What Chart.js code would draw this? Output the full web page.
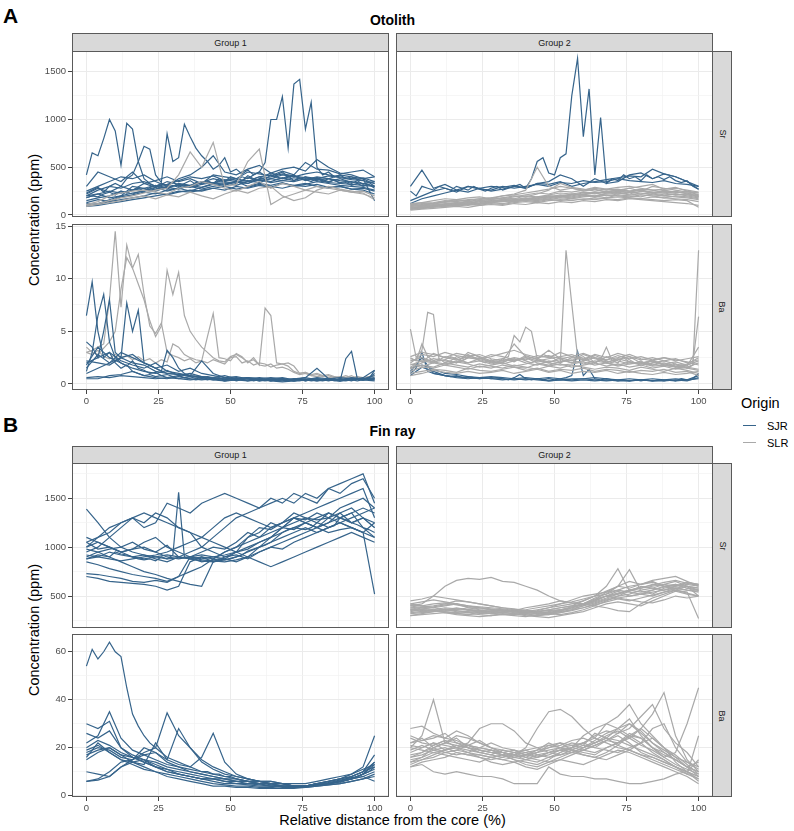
<!DOCTYPE html>
<html>
<head>
<meta charset="utf-8">
<script src="https://cdn.jsdelivr.net/npm/chart.js@4.4.0/dist/chart.umd.min.js"></script>
<style>
  body { margin: 0; background: #fff; font-family: "Liberation Sans", Arial, Helvetica, sans-serif; }
  #fig { position: relative; width: 794px; height: 831px; overflow: hidden; background: #fff; }
  #fig canvas { position: absolute; }
  .txt { position: absolute; line-height: 1; white-space: nowrap; color: #000; }
  .strip { position: absolute; box-sizing: border-box; background: #d9d9d9; border: 1px solid #5a5a5a;
           color: #1a1a1a; font-size: 9px; display: flex; align-items: center; justify-content: center; }
  .strip.v span { display: block; transform: rotate(90deg); }
  .key { position: absolute; width: 13px; height: 1.3px; }
</style>
</head>
<body>
<div id="fig">
  <div class="txt" style="left:3px;top:14.5px;transform:translateY(-50%);font-size:21px;font-weight:bold;">A</div>
  <div class="txt" style="left:3px;top:423.5px;transform:translateY(-50%);font-size:21px;font-weight:bold;">B</div>
  <div class="txt" style="left:392.5px;top:20px;transform:translate(-50%,-50%);font-size:14px;font-weight:bold;">Otolith</div>
  <div class="txt" style="left:392.5px;top:431px;transform:translate(-50%,-50%);font-size:14px;font-weight:bold;">Fin ray</div>
  <div class="txt" style="left:34px;top:220px;transform:translate(-50%,-50%) rotate(-90deg);font-size:14.5px;">Concentration (ppm)</div>
  <div class="txt" style="left:34px;top:630px;transform:translate(-50%,-50%) rotate(-90deg);font-size:14.5px;">Concentration (ppm)</div>
  <div class="txt" style="left:392.5px;top:820px;transform:translate(-50%,-50%);font-size:14.5px;">Relative distance from the core (%)</div>

  <div class="strip" style="left:72px;top:33px;width:317px;height:19px;">Group 1</div>
  <div class="strip" style="left:396px;top:33px;width:317px;height:19px;">Group 2</div>
  <div class="strip v" style="left:712px;top:51px;width:20px;height:166px;"><span>Sr</span></div>
  <div class="strip v" style="left:712px;top:224px;width:20px;height:166px;"><span>Ba</span></div>
  <div class="strip" style="left:72px;top:446px;width:317px;height:18px;">Group 1</div>
  <div class="strip" style="left:396px;top:446px;width:317px;height:18px;">Group 2</div>
  <div class="strip v" style="left:712px;top:463px;width:20px;height:165px;"><span>Sr</span></div>
  <div class="strip v" style="left:712px;top:634px;width:20px;height:163px;"><span>Ba</span></div>

  <div class="txt" style="left:741px;top:403px;transform:translateY(-50%);font-size:14.5px;">Origin</div>
  <div class="key" style="left:743px;top:425px;background:#36648b;"></div>
  <div class="txt" style="left:767px;top:426px;transform:translateY(-50%);font-size:11px;">SJR</div>
  <div class="key" style="left:743px;top:442px;background:#a9a9a9;"></div>
  <div class="txt" style="left:767px;top:443px;transform:translateY(-50%);font-size:11px;">SLR</div>
</div>

<script>
// x positions (% of distance from the core)
const xCoarse = [0,4,8,12,16,20,24,28,32,36,40,44,48,52,56,60,64,68,72,76,80,84,88,92,96,100];
const xFine = [0,2,4,6,8,10,12,14,16,18,20,22,24,26,28,30,32,34,36,38,40,42,44,46,48,
               50,52,54,56,58,60,62,64,66,68,70,72,74,76,78,80,82,84,86,88,90,92,94,96,98,100];

// axis ticks
const xMajor = [0,25,50,75,100];
const xMinor = [12.5,37.5,62.5,87.5];
const otoSrMajor = [0,500,1000,1500], otoSrMinor = [250,750,1250];
const otoBaMajor = [0,5,10,15], otoBaMinor = [2.5,7.5,12.5];
const finSrMajor = [500,1000,1500], finSrMinor = [250,750,1250,1750];
const finBaMajor = [0,20,40,60], finBaMinor = [10,30,50];

// ---- Otolith, Sr, Group 1 ----
const otoSrG1_SJR_fine = [
  [420,650,620,800,1000,880,520,960,900,560, 380,330,300,330,310,350,300,330,360,320,
   340,360,330,380,350,400,380,360,410,380, 400,370,420,390,380,410,360,390,370,350,
   380,360,340,370,330,340,310,330,300,320, 280],
  [230,260,290,240,300,330,300,380,420,560, 720,690,420,340,850,560,600,950,820,700,
   620,560,480,520,600,450,480,430,470,420, 450,410,440,420,450,400,420,380,400,370,
   390,350,380,360,340,350,330,360,320,340, 300],
  [180,200,190,220,240,210,250,230,260,280, 250,290,270,300,280,310,290,320,300,340,
   320,350,330,360,350,380,360,400,380,420, 450,550,1000,1000,1240,700,1370,1420,900,1180,
   500,420,450,400,420,380,400,370,380,350, 330]
];
const otoSrG1_SJR = [
  [100,120,160,200,230,250,270,300,310,290,320,340,330,350,360,340,380,360,350,380,360,340,330,320,310,300],
  [200,260,300,280,330,350,300,320,360,400,380,410,360,380,350,400,420,380,410,360,390,350,380,340,330,350],
  [150,180,200,250,220,260,290,250,280,300,270,300,320,350,300,330,310,340,300,320,350,330,310,300,290,260],
  [120,110,140,160,180,200,230,210,240,260,250,280,260,300,280,310,290,330,310,300,320,290,300,270,280,250],
  [250,300,350,400,380,420,350,300,380,420,500,620,450,420,480,520,440,480,500,460,580,500,440,420,380,400],
  [90,100,120,140,160,180,200,220,250,240,260,280,300,270,290,320,300,280,310,330,300,280,300,270,260,220],
  [300,450,400,350,450,330,360,400,350,380,330,420,400,380,450,430,410,460,420,550,480,470,430,450,470,400],
  [200,220,180,200,300,280,310,270,330,310,350,330,370,350,330,380,400,430,410,390,370,380,420,400,380,150],
  [180,220,250,230,260,280,250,290,270,310,290,330,310,350,330,370,350,390,360,400,380,410,390,370,360,330],
  [130,160,140,190,210,240,220,260,280,250,290,320,340,310,350,370,340,360,390,370,400,380,360,350,330,300],
  [220,280,240,300,260,330,290,350,320,300,340,380,350,330,390,360,380,420,400,430,450,420,400,380,390,350]
];
const otoSrG1_SLR = [
  [100,120,150,180,200,230,260,280,420,660,500,760,300,320,560,690,110,180,220,260,300,280,260,240,250,200],
  [90,110,130,150,180,200,170,210,190,240,200,170,220,260,230,280,300,200,150,180,260,300,270,250,230,160],
  [110,140,200,230,250,260,240,220,280,300,350,320,280,250,300,350,280,330,300,260,240,220,260,240,220,180]
];

// ---- Otolith, Sr, Group 2 ----
const otoSrG2_SJR_fine = [
  [250,200,300,280,260,300,280,260,300,280, 260,300,270,250,280,300,260,280,300,320,
   280,380,560,600,440,420,600,640,1250,1640, 820,1320,420,1020,330,380,360,420,380,400,
   360,420,380,400,370,400,360,340,360,300, 270]
];
const otoSrG2_SJR = [
  [300,470,280,320,260,300,280,250,270,300,280,330,350,420,380,300,380,330,350,420,440,380,430,400,350,300],
  [150,200,250,280,240,300,270,260,300,280,300,320,300,340,330,360,340,350,380,360,350,340,360,330,320,300],
  [120,170,200,230,260,240,280,300,290,310,280,330,320,350,300,330,350,370,390,410,400,480,430,400,350,270]
];
const otoSrG2_SLR = [
  [60,70,80,90,100,110,120,130,140,150,170,160,180,200,190,210,200,220,230,210,220,240,230,210,220,200],
  [80,90,110,100,120,130,120,140,150,160,150,170,160,180,170,190,200,180,210,200,190,220,200,190,180,160],
  [100,120,130,150,140,160,170,180,200,220,260,500,300,260,280,250,270,240,260,280,250,300,280,260,240,230],
  [50,60,70,80,90,80,100,110,100,120,110,130,120,140,130,150,140,160,150,170,160,150,140,130,120,100],
  [120,130,150,170,160,180,190,170,200,210,230,250,270,300,280,260,290,270,250,280,300,320,270,290,250,230],
  [90,100,100,120,130,120,150,140,160,170,160,180,200,190,220,210,230,200,220,240,260,230,210,220,200,180],
  [70,80,100,90,110,120,110,130,150,140,160,150,170,190,180,200,190,210,200,190,210,200,180,170,160,140],
  [110,100,120,140,150,140,160,180,170,190,210,230,220,250,240,260,280,260,270,250,260,240,230,250,220,200],
  [60,80,90,110,100,130,120,140,160,150,170,190,180,200,220,210,190,230,240,220,250,230,260,240,230,210],
  [100,110,120,130,120,140,150,160,180,170,200,190,210,230,220,240,230,250,220,240,230,210,200,220,210,190],
  [80,70,90,100,110,100,120,130,120,140,150,140,160,150,170,160,180,170,160,180,170,160,150,160,150,80],
  [70,90,100,110,130,120,140,150,140,160,180,170,190,210,200,220,240,230,250,240,220,230,250,240,230,190],
  [90,100,120,110,100,120,130,150,160,150,170,180,200,190,210,230,220,240,260,250,270,260,240,230,250,210],
  [110,130,120,140,160,150,170,160,180,200,190,220,260,330,290,270,250,270,290,300,280,260,270,280,260,240],
  [60,70,90,100,90,110,100,120,110,130,140,130,150,160,150,170,160,180,190,180,170,190,180,200,190,170]
];

// ---- Otolith, Ba, Group 1 ----
const otoBaG1_SLR_fine = [
  [3.0,3.2,3.5,3.8,8.0,14.5,7.3,13.2,11.0,12.3, 8.5,5.5,4.8,5.8,3.0,2.7,2.5,2.2,2.4,2.0,
   2.2,2.0,2.3,2.1,1.9,2.5,2.6,2.0,2.2,1.8, 2.0,1.9,1.6,1.8,1.9,1.7,1.2,1.0,1.1,0.8,
   0.9,0.7,0.8,0.6,0.7,0.6,0.8,0.5,0.6,0.5, 0.4],
  [3.5,3.0,2.8,3.4,4.0,5.0,9.0,12.0,11.0,9.5, 8.0,6.0,4.5,5.5,10.8,8.5,10.6,6.5,5.0,4.2,
   3.5,3.0,2.5,2.2,2.1,2.6,2.8,2.5,2.1,2.3, 1.8,1.7,1.9,1.5,1.6,1.4,1.1,0.9,1.0,0.8,
   0.7,0.8,0.6,0.7,0.5,0.6,0.5,0.7,0.5,0.6, 0.5],
  [3.0,2.8,3.2,2.6,2.4,2.8,2.5,2.7,2.3,2.6, 2.2,2.4,2.0,2.3,2.1,3.8,3.5,2.8,2.5,2.3,
   2.2,4.5,6.7,2.5,2.4,2.2,2.9,2.6,2.0,2.5, 1.8,7.2,6.5,2.0,1.9,2.0,1.7,1.0,1.1,0.9,
   1.0,0.8,0.9,0.7,0.6,0.8,0.6,0.7,0.6,0.7, 0.8]
];
const otoBaG1_SJR_fine = [
  [6.5,9.7,5.0,2.5,3.0,2.0,1.5,1.8,1.2,1.0, 0.8,0.9,0.7,0.8,0.6,0.7,0.5,0.6,0.5,0.4,
   0.5,0.4,0.5,0.4,0.3,0.4,0.5,0.4,0.3,0.4, 0.3,0.4,0.3,0.4,0.5,0.3,0.4,0.3,0.4,0.3,
   0.4,0.3,0.4,0.5,0.3,2.4,3.1,0.5,0.4,0.5, 0.5],
  [1.2,3.0,6.5,8.5,4.0,2.5,2.0,1.7,2.2,1.5, 1.3,1.0,1.1,0.8,0.9,0.7,0.8,0.6,0.7,0.5,
   0.6,0.5,0.4,0.5,0.4,0.5,0.3,0.4,0.5,0.3, 0.4,0.3,0.4,0.3,0.5,0.4,0.3,0.4,0.3,0.4,
   0.5,0.4,0.3,0.4,0.5,0.4,0.3,0.5,0.4,0.6, 1.0],
  [4.0,3.5,2.5,5.0,8.0,3.0,2.5,7.7,5.0,7.0, 2.0,1.8,1.5,1.2,3.2,2.5,1.5,1.0,0.8,0.7,
   0.6,0.7,0.5,0.6,0.4,0.5,0.4,0.5,0.6,0.4, 0.5,0.4,0.3,0.4,0.5,0.3,0.4,0.5,0.3,0.4,
   0.3,0.4,0.5,0.3,0.4,0.3,0.4,0.3,0.4,0.5, 1.3]
];
const otoBaG1_SJR = [
  [2.0,2.5,3.0,2.2,1.8,1.5,2.0,1.2,1.0,0.8,0.7,0.6,0.5,0.6,0.5,0.4,0.5,0.4,0.5,0.6,0.4,0.5,0.4,0.5,0.4,0.5],
  [1.5,2.8,2.0,2.5,2.0,1.8,1.2,1.0,0.9,0.8,2.2,1.0,0.6,0.5,0.6,0.5,0.4,0.4,0.3,0.4,0.5,0.4,0.3,0.4,0.5,0.6],
  [0.6,0.7,0.6,0.8,0.7,0.6,0.5,0.6,0.5,0.4,0.5,0.4,0.3,0.4,0.3,0.4,0.3,0.2,0.3,0.4,0.3,0.4,0.3,0.5,0.4,0.3],
  [1.0,1.5,2.0,3.0,2.5,2.0,1.5,1.0,0.9,0.7,0.6,0.5,0.5,0.4,0.5,0.4,0.4,0.3,0.5,0.4,0.6,0.5,0.4,0.5,0.5,0.8],
  [2.2,2.0,1.8,2.5,2.8,2.0,1.5,1.8,1.2,1.5,1.0,0.8,0.6,0.7,0.5,0.6,0.5,0.6,0.4,0.5,0.4,0.5,0.6,0.5,0.4,0.5],
  [0.5,0.5,0.8,0.9,1.2,0.8,0.6,0.5,0.7,0.5,0.4,0.5,0.3,0.4,0.5,0.3,0.4,0.5,0.3,0.4,0.5,0.4,0.3,0.4,0.6,1.3],
  [1.8,3.5,2.5,2.0,1.5,1.2,1.0,1.3,0.8,1.0,0.7,0.6,0.8,0.5,0.6,0.5,0.6,0.5,0.4,0.6,1.5,0.5,0.4,0.6,0.5,0.4]
];

// ---- Otolith, Ba, Group 2 ----
const otoBaG2_SLR_fine = [
  [5.2,2.5,3.2,6.8,6.6,2.2,2.3,2.6,2.4,2.2, 2.5,2.8,2.5,2.3,2.1,2.2,2.0,2.3,2.2,2.4,
   2.2,2.0,2.3,2.8,2.6,2.4,2.0,12.7,7.6,2.6, 2.2,2.5,2.0,2.3,3.5,2.2,2.0,2.6,2.3,2.0,
   2.2,1.8,2.0,2.1,1.8,1.9,1.6,1.8,1.5,1.8, 12.7],
  [2.5,2.2,3.8,2.6,2.2,2.4,2.0,2.2,2.6,2.4, 2.8,2.5,2.2,2.0,2.3,2.0,2.4,2.6,4.6,4.0,
   5.4,5.0,2.4,2.8,3.2,2.8,2.4,2.2,2.0,2.4, 2.6,2.2,2.0,2.4,2.2,2.0,2.3,2.5,2.1,2.0,
   1.9,2.1,1.8,2.0,1.8,1.7,1.9,1.6,1.8,2.0, 6.4]
];
const otoBaG2_SLR = [
  [1.5,2.0,2.4,2.2,2.0,2.5,2.3,2.0,2.2,3.8,2.6,2.4,2.1,2.3,2.0,2.2,2.5,2.0,1.8,2.1,1.9,2.2,1.8,1.7,1.6,2.0],
  [1.2,1.6,1.5,1.8,1.6,1.4,1.7,1.5,1.8,1.6,1.5,1.9,1.7,1.5,1.8,1.6,1.4,1.6,1.5,1.3,1.6,1.4,1.2,1.5,1.3,1.0],
  [2.0,2.8,2.6,3.0,2.7,2.5,2.4,2.8,2.6,2.3,2.5,2.2,2.4,2.6,2.8,2.4,2.7,2.3,2.5,2.8,2.4,2.2,2.5,2.3,2.1,1.8],
  [1.0,1.2,1.4,1.3,1.1,1.5,1.3,1.2,1.4,1.6,1.3,1.5,1.2,1.4,1.3,1.5,1.2,1.4,1.3,1.1,1.3,1.2,1.4,1.1,1.2,0.8],
  [1.8,2.2,2.0,2.6,2.4,2.0,2.2,1.9,2.1,2.4,2.0,1.8,2.2,2.0,2.5,2.3,2.0,2.6,2.2,1.9,2.1,1.8,2.0,1.7,1.9,2.5],
  [0.8,1.0,1.3,1.1,1.0,1.2,1.0,1.1,1.3,1.0,1.2,1.4,1.1,1.3,1.0,1.2,1.1,1.3,1.0,1.2,1.0,0.9,1.1,0.9,1.0,1.2],
  [2.2,2.5,2.1,2.3,2.0,3.0,2.6,2.2,2.4,2.1,2.7,2.3,2.0,2.5,2.2,2.8,2.4,2.1,2.3,2.6,2.0,2.2,1.9,2.1,1.8,2.2],
  [1.4,1.8,1.6,2.0,1.8,1.6,1.9,1.7,1.5,1.8,1.6,1.4,1.7,1.9,1.6,1.8,2.0,1.7,1.9,1.6,1.8,1.5,1.7,1.4,1.6,1.4],
  [2.6,3.0,2.8,2.5,2.9,2.7,2.4,2.6,2.9,3.2,2.8,2.5,2.7,2.4,2.6,2.9,2.5,2.3,2.7,2.4,2.6,2.3,2.5,2.2,2.4,2.6],
  [1.6,2.3,2.1,1.9,2.2,2.0,2.4,2.1,1.9,2.2,2.5,2.0,1.8,2.1,2.3,1.9,2.2,2.0,2.4,2.1,1.8,2.0,2.2,1.9,1.7,3.5],
  [1.9,1.7,2.0,1.8,2.1,1.9,1.6,1.8,2.0,1.7,1.9,2.2,2.0,1.8,1.9,2.1,1.8,2.0,1.7,1.9,2.0,1.7,1.8,1.6,1.5,1.3],
  [2.4,2.1,2.9,2.5,2.3,2.6,2.8,2.4,2.2,2.5,2.3,2.7,2.5,3.0,2.6,2.3,2.8,2.5,2.9,2.6,2.3,2.5,2.2,2.4,2.0,2.3]
];
const otoBaG2_SJR_fine = [
  [1.0,1.5,3.0,1.2,1.0,0.9,0.8,0.7,0.8,0.6, 0.7,0.6,0.5,0.6,0.5,0.6,0.5,0.4,0.6,0.9,
   0.5,0.4,0.5,0.4,0.5,0.4,0.5,0.6,0.8,3.1, 0.8,1.4,0.5,0.4,0.5,0.4,0.3,0.4,0.3,0.4,
   0.3,0.4,0.3,0.4,0.3,0.4,0.3,0.5,0.4,0.5, 1.0]
];
const otoBaG2_SJR = [
  [1.2,2.5,1.0,0.8,0.7,0.6,0.5,0.6,0.5,0.4,0.5,0.4,0.3,0.4,0.3,0.4,0.3,0.4,0.3,0.3,0.4,0.3,0.3,0.4,0.3,0.6],
  [0.8,1.6,1.2,0.8,0.6,0.5,0.6,0.5,0.4,0.5,0.4,0.5,0.3,0.4,0.5,0.5,0.4,0.3,0.4,0.3,0.4,0.3,0.4,0.3,0.4,0.5],
  [1.5,1.8,1.4,1.0,0.9,0.7,0.6,0.7,0.6,0.5,0.6,0.5,0.6,0.5,0.4,0.5,0.6,0.5,0.4,0.5,0.4,0.5,0.4,0.5,0.4,0.8]
];

// ---- Fin ray, Sr, Group 1 ----
const finSrG1_SJR_fine = [
  [880,900,920,910,900,950,930,920,900,880, 870,880,860,900,880,920,1560,900,880,870,
   850,860,870,880,870,880,900,920,960,980, 1000,1020,1050,1100,1150,1180,1200,1190,1180,1200,
   1250,1230,1200,1220,1300,1280,1250,1230,1200,1180, 1150]
];
const finSrG1_SJR = [
  [1390,1250,1100,1000,1050,980,950,1020,900,880,900,850,880,950,1100,1150,1250,1200,1300,1250,1200,1300,1250,1200,1150,1250],
  [700,680,650,640,630,620,600,560,600,850,900,880,950,1000,1100,1200,1180,1250,1300,1280,1350,1300,1400,1450,1500,1400],
  [730,720,700,680,650,640,660,640,700,900,950,1000,980,1050,1150,1100,1200,1250,1350,1300,1250,1350,1300,1350,1200,1100],
  [950,1000,1100,1200,1300,1250,1350,1300,1200,1150,1000,950,900,920,880,950,1000,980,1050,1100,1150,1200,1250,1300,1350,1400],
  [1050,1100,1150,1250,1300,1200,1250,1450,1400,1350,1450,1500,1550,1500,1450,1400,1500,1450,1550,1500,1450,1600,1650,1700,1750,1450],
  [900,950,980,1000,950,920,900,880,890,900,870,860,850,870,900,950,1000,1050,1100,1150,1200,1250,1300,1350,1400,1350],
  [1000,1050,1000,950,980,1000,950,900,880,900,920,900,880,850,900,1000,1100,1200,1250,1300,1280,1300,1350,1250,1300,1200],
  [850,820,780,750,720,700,680,650,700,750,800,880,950,1000,1050,1100,1150,1200,1180,1250,1200,1150,1180,1200,1150,1100],
  [1100,1050,1000,950,980,1050,1100,1000,950,900,880,900,920,950,1000,1050,1100,1150,1200,1250,1300,1350,1300,1250,1300,1250],
  [920,900,880,860,880,900,920,950,1000,1050,1100,1200,1300,1350,1300,1250,1200,1250,1300,1350,1400,1450,1500,1550,1600,1300],
  [980,950,900,850,800,750,720,680,650,620,600,850,900,950,900,850,800,850,900,950,1000,1050,1100,1150,1100,1050],
  [1050,980,1000,950,900,920,880,850,900,950,1000,1100,1200,1300,1350,1400,1450,1500,1450,1550,1500,1600,1550,1650,1700,1500],
  [880,900,950,920,900,880,900,920,900,880,860,850,870,900,950,1000,1050,1100,1150,1200,1150,1200,1250,1200,1150,520],
  [1000,1100,1200,1250,1300,1350,1300,1250,1200,1150,1100,1050,1000,950,980,1050,1100,1200,1300,1250,1200,1250,1350,1400,1300,1200]
];

// ---- Fin ray, Sr, Group 2 ----
const finSrG2_SLR = [
  [400,420,500,600,660,680,670,690,650,640,600,560,500,450,430,420,450,500,520,560,580,620,600,620,600,580],
  [350,380,360,340,330,350,340,320,330,350,340,360,380,400,420,450,500,550,600,580,620,650,600,580,560,550],
  [420,400,380,400,420,380,360,340,350,330,320,340,360,380,400,450,500,600,780,550,580,600,620,650,600,500],
  [380,360,350,340,320,330,310,300,320,310,330,340,320,350,380,420,480,520,600,770,550,520,580,600,640,620],
  [330,340,350,360,340,330,340,350,360,340,320,300,310,330,360,400,450,500,550,500,520,560,600,620,580,560],
  [450,470,500,480,460,440,420,400,380,360,350,340,360,380,400,420,460,540,600,650,620,660,680,700,650,600],
  [300,310,320,330,310,300,290,300,310,320,300,290,280,300,320,340,380,420,440,420,400,450,500,550,520,500],
  [360,340,350,330,320,310,320,330,340,350,380,400,420,450,430,420,400,380,350,340,420,480,520,560,600,580],
  [400,380,390,410,420,400,380,370,360,340,330,350,380,420,460,500,520,540,560,600,620,640,600,560,540,270],
  [320,330,340,350,370,360,350,340,330,320,310,300,320,340,360,380,420,460,480,500,520,540,560,580,600,560],
  [380,390,400,420,450,440,420,400,380,370,350,340,330,350,370,400,430,470,500,520,560,580,620,600,620,600],
  [340,360,350,370,360,380,370,360,350,340,360,380,400,420,440,470,500,520,560,540,520,500,540,580,560,540],
  [420,440,460,440,420,400,390,380,370,350,340,330,320,310,330,360,400,450,500,550,600,580,560,600,640,620],
  [300,320,340,360,380,360,340,320,310,300,290,310,330,350,380,420,460,500,480,460,440,430,460,500,480,500],
  [370,350,360,380,370,360,350,340,350,360,350,340,350,360,380,410,440,480,520,560,540,560,590,610,580,560],
  [410,400,420,430,410,390,380,360,350,340,330,320,340,360,390,420,470,500,530,560,590,610,640,660,630,610],
  [360,370,380,360,350,340,330,320,330,340,330,320,310,330,350,380,410,440,470,450,480,510,540,560,530,500]
];

// ---- Fin ray, Ba, Group 1 ----
const finBaG1_SJR_fine = [
  [54,61,57,60,64,60,58,45,34,29, 25,22,20,18,16,15,14,13,12,11,
   10,10,9,9,8,8,7,6.5,6,5.5, 5,5,4.5,4.2,4,4.2,4,3.8,4,4.2,
   4.5,5,5.5,6,6.5,7,7.5,8,9,10, 12]
];
const finBaG1_SJR = [
  [30,28,31,20,17,15,14,12,11,10,9,8,7,7,6,6,5,5,4,4,5,5,6,7,8,10],
  [22,25,35,24,19,17,15,13,12,11,10,9,8,7,6,6,5,5,4,4,5,6,7,8,10,14],
  [18,20,19,16,15,18,20,34.5,25,20,15,12,10,8,7,6,6,5,5,5,6,7,8,9,11,13],
  [16,22,18,15,14,13,22,15,28,20,14,11,9,8,7,6,6,5,4,4,5,6,7,9,12,25],
  [6,7,10,14,15,17,18,15,13,12,16,26,14,9,7,6,5,5,4,4,5,6,7,8,10,12],
  [10,9,8,12,15,20,18,14,12,10,9,8,7,6,6,5,5,4,4,4,5,5,6,7,9,11],
  [17,19,20,17,14,12,10,9,8,7,6,5,4.5,4,4,3.5,3.5,3,3,3.5,4,4.5,5,6,7,9],
  [20,23,21,18,16,15,13,11,9,8,7,7,6,6,5,5,4,4,3.5,4,4.5,5,6,7,9,14],
  [15,18,20,17,16,14,12,11,10,9,8,7,7,6,6,5,5,4,4,4,4.5,5,6,8,10,17],
  [19,21,18,15,13,11,10,8,7,6,5,4,4,3.5,3.5,3,3,3,3.5,3.5,4,4.5,5,6,7,8],
  [26,24,27,20,16,14,12,10,9,8,7,6,5,5,4.5,4,4,3.5,3.5,4,4.5,5,5.5,7,9,13],
  [6,6.5,8,12,14,15,12,10,9,8,7,7,6,5,5,4.5,4,4,3.5,4,4.5,5,6,7,8,6]
];

// ---- Fin ray, Ba, Group 2 ----
const finBaG2_SLR = [
  [20,25,40,22,24,20,18,17,16,18,19,17,16,18,20,25,28,30,33,38,30,25,20,14,10,8],
  [28,29,26,24,27,25,22,20,19,18,17,18,20,22,19,18,17,20,22,24,28,34,43,25,15,10],
  [14,16,20,22,25,24,22,20,18,17,20,28,35,36,33,28,24,22,20,19,17,16,14,12,10,8],
  [18,20,22,21,20,22,28,30,30,27,22,20,18,17,18,20,22,24,28,32,25,20,18,15,12,10],
  [12,13,10,9,10,9,8,8,7,5,5,5,12,9,8,8,7,7,6,5,5,6,7,9,10,6],
  [17,18,20,22,21,20,19,18,17,16,17,18,19,20,22,21,20,23,22,25,24,20,17,15,12,14],
  [19,21,19,20,18,17,17,16,15,16,15,17,18,19,20,22,25,27,26,28,33,38,28,22,18,12],
  [13,15,17,19,20,21,19,18,17,15,14,13,15,18,20,22,24,30,28,25,22,18,15,12,10,7],
  [22,23,25,24,23,21,20,19,18,17,16,18,21,20,19,17,16,18,21,25,28,24,20,17,13,9],
  [16,17,19,18,17,18,20,19,18,17,18,16,17,19,20,19,18,20,22,26,24,20,16,18,30,45],
  [20,19,18,19,21,20,18,17,19,18,16,15,14,16,18,20,22,24,23,21,19,17,15,12,10,15],
  [15,16,18,17,16,15,14,16,17,15,13,12,14,15,17,19,21,23,25,22,18,16,14,12,9,25],
  [24,22,21,23,22,20,19,18,18,19,17,16,18,20,21,22,20,19,18,20,22,28,30,20,14,11],
  [14,15,16,18,19,18,17,16,15,14,12,11,13,15,14,13,15,17,19,18,16,14,12,10,8,5],
  [21,20,22,19,20,19,18,19,17,18,19,20,21,22,21,20,23,26,28,30,26,22,18,15,12,8],
  [25,23,24,26,22,21,20,22,20,19,18,19,20,21,23,24,22,25,27,24,21,19,16,13,11,9],
  [16,18,21,23,20,18,16,15,16,17,15,14,16,17,19,21,26,24,21,19,17,15,13,11,9,7],
  [22,24,20,18,19,21,23,20,18,16,17,19,22,20,18,19,21,23,26,30,27,22,19,16,14,12],
  [12,14,15,16,18,17,16,14,13,14,15,16,18,19,18,17,16,15,17,19,22,24,20,16,12,10]
];

const SJR_COLOR = '#36648b';
const SLR_COLOR = '#a9a9a9';
const FONT = '"Liberation Sans", Arial, Helvetica, sans-serif';

// turn a list of value arrays into line datasets
function toLines(list, xs, color) {
  return list.map(vals => ({
    data: vals.map((v, i) => ({ x: xs[i], y: v })),
    borderColor: color,
    borderWidth: 1.2,
    pointRadius: 0,
    fill: false,
    tension: 0
  }));
}

// panel border drawn on top, like theme_bw
const framePlugin = {
  id: 'frame',
  afterDraw(chart) {
    const a = chart.chartArea, c = chart.ctx;
    c.save();
    c.strokeStyle = '#5a5a5a';
    c.lineWidth = 1;
    c.strokeRect(Math.round(a.left) + 0.5, Math.round(a.top) + 0.5,
                 Math.round(a.right - a.left) - 1, Math.round(a.bottom - a.top) - 1);
    c.restore();
  }
};

function axis(min, max, major, minor, showLabels, size) {
  const isMajor = c => c.tick && major.includes(c.tick.value);
  return {
    type: 'linear',
    min: min,
    max: max,
    afterBuildTicks: s => { s.ticks = major.concat(minor).sort((a, b) => a - b).map(v => ({ value: v })); },
    afterFit: s => {
      if (s.isHorizontal()) s.height = size; else s.width = size;
      s.paddingTop = 0; s.paddingBottom = 0; s.paddingLeft = 0; s.paddingRight = 0;
    },
    border: { display: false },
    grid: {
      color: c => isMajor(c) ? '#ebebeb' : '#f2f2f2',
      lineWidth: c => isMajor(c) ? 1 : 0.7,
      drawTicks: showLabels,
      tickLength: 4,
      tickWidth: 1,
      tickColor: c => isMajor(c) ? '#444444' : 'rgba(0,0,0,0)'
    },
    ticks: {
      display: showLabels,
      autoSkip: false,
      maxRotation: 0,
      padding: 2,
      color: '#4d4d4d',
      font: { family: FONT, size: 9.5 },
      callback: v => major.includes(v) ? String(v) : ''
    }
  };
}

function drawPanel(p) {
  const fig = document.getElementById('fig');
  const yW = p.yLabels ? 36 : 0;
  const xH = p.xLabels ? 18 : 0;
  const W = p.w + yW + 4, H = p.h + xH + 4;
  const cv = document.createElement('canvas');
  cv.width = W; cv.height = H;
  cv.style.left = (p.left - yW - 2) + 'px';
  cv.style.top = (p.top - 2) + 'px';
  cv.style.width = W + 'px';
  cv.style.height = H + 'px';
  fig.appendChild(cv);

  new Chart(cv.getContext('2d'), {
    type: 'line',
    data: { datasets: p.datasets },
    options: {
      responsive: false,
      animation: false,
      events: [],
      layout: { padding: 2, autoPadding: false },
      plugins: { legend: { display: false }, tooltip: { enabled: false } },
      scales: {
        x: axis(-5, 105, xMajor, xMinor, p.xLabels, xH),
        y: axis(p.y[0], p.y[1], p.y[2], p.y[3], p.yLabels, yW)
      }
    },
    plugins: [framePlugin]
  });
}

const panels = [
  { left: 72, top: 51, w: 317, h: 166, yLabels: true, xLabels: false,
    y: [-21, 1717, otoSrMajor, otoSrMinor],
    datasets: [].concat(toLines(otoSrG1_SLR, xCoarse, SLR_COLOR),
                        toLines(otoSrG1_SJR, xCoarse, SJR_COLOR),
                        toLines(otoSrG1_SJR_fine, xFine, SJR_COLOR)) },
  { left: 396, top: 51, w: 317, h: 166, yLabels: false, xLabels: false,
    y: [-21, 1717, otoSrMajor, otoSrMinor],
    datasets: [].concat(toLines(otoSrG2_SLR, xCoarse, SLR_COLOR),
                        toLines(otoSrG2_SJR, xCoarse, SJR_COLOR),
                        toLines(otoSrG2_SJR_fine, xFine, SJR_COLOR)) },
  { left: 72, top: 224, w: 317, h: 166, yLabels: true, xLabels: true,
    y: [-0.57, 15.19, otoBaMajor, otoBaMinor],
    datasets: [].concat(toLines(otoBaG1_SJR, xCoarse, SJR_COLOR),
                        toLines(otoBaG1_SJR_fine, xFine, SJR_COLOR),
                        toLines(otoBaG1_SLR_fine, xFine, SLR_COLOR)) },
  { left: 396, top: 224, w: 317, h: 166, yLabels: false, xLabels: true,
    y: [-0.57, 15.19, otoBaMajor, otoBaMinor],
    datasets: [].concat(toLines(otoBaG2_SLR, xCoarse, SLR_COLOR),
                        toLines(otoBaG2_SLR_fine, xFine, SLR_COLOR),
                        toLines(otoBaG2_SJR, xCoarse, SJR_COLOR),
                        toLines(otoBaG2_SJR_fine, xFine, SJR_COLOR)) },
  { left: 72, top: 463, w: 317, h: 165, yLabels: true, xLabels: false,
    y: [173, 1861, finSrMajor, finSrMinor],
    datasets: [].concat(toLines(finSrG1_SJR, xCoarse, SJR_COLOR),
                        toLines(finSrG1_SJR_fine, xFine, SJR_COLOR)) },
  { left: 396, top: 463, w: 317, h: 165, yLabels: false, xLabels: false,
    y: [173, 1861, finSrMajor, finSrMinor],
    datasets: toLines(finSrG2_SLR, xCoarse, SLR_COLOR) },
  { left: 72, top: 634, w: 317, h: 163, yLabels: true, xLabels: true,
    y: [-0.54, 67.4, finBaMajor, finBaMinor],
    datasets: [].concat(toLines(finBaG1_SJR, xCoarse, SJR_COLOR),
                        toLines(finBaG1_SJR_fine, xFine, SJR_COLOR)) },
  { left: 396, top: 634, w: 317, h: 163, yLabels: false, xLabels: true,
    y: [-0.54, 67.4, finBaMajor, finBaMinor],
    datasets: toLines(finBaG2_SLR, xCoarse, SLR_COLOR) }
];

panels.forEach(drawPanel);
</script>
</body>
</html>
